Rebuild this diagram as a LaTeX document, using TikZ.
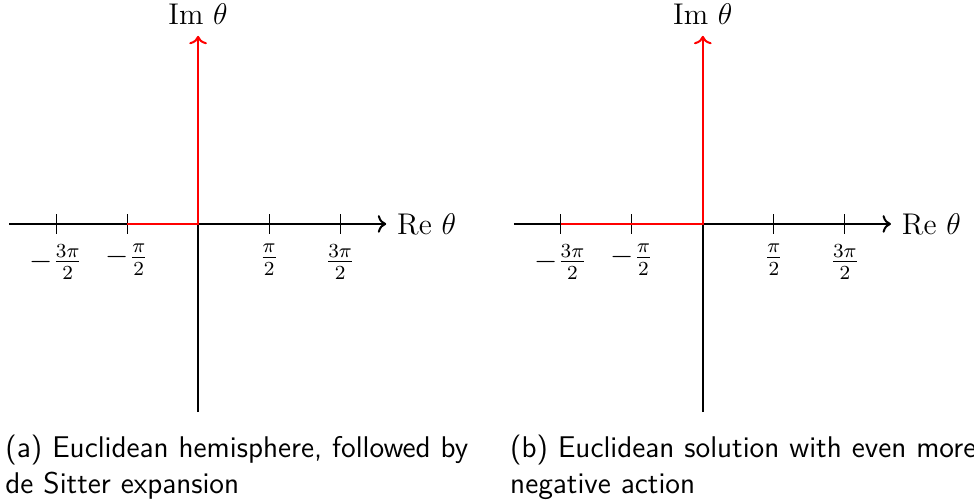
\documentclass[tikz,border=0pt,12pt]{standalone}
\usepackage{amsmath}
\usepackage{tikz}
\usetikzlibrary{positioning, arrows.meta}

\begin{document}
\begin{tikzpicture}[
        axis/.style    = {->, thick},
        redpath/.style = {->, thick, red},
        tickmark/.style = {thin},
        captxt/.style  = {anchor=north west, align=left, text width=6.6cm, inner sep=0pt, font=\sffamily},
    ]
        \useasboundingbox (-2.79,-3.944) rectangle (10.93,3.155);

        %---- panel (a) ----
        \coordinate (ao) at (0,0);
        \coordinate (aw) at (-2.66,0);
        \coordinate (ae) at (2.65,0);
        \coordinate (as) at (0,-2.65);
        \coordinate (an) at (0,2.65);
        \draw[axis] (aw) -- (ae) node[right] (are) {Re $\theta$};
        \draw[thick] (as) -- (ao);
        \foreach \x/\lab in {-2/-\frac{3\pi}{2}, -1/-\frac{\pi}{2}, 1/\frac{\pi}{2}, 2/\frac{3\pi}{2}}
            \draw[tickmark] (\x,0.14) -- (\x,-0.14) node[below] {$\lab$};
        \draw[redpath] (-1,0) -- (ao) -- (an) node[above, black] (aim) {Im $\theta$};
        \node[captxt] (capa) at (-2.72,-2.96) {(a) Euclidean hemisphere, followed by de Sitter expansion};

        %---- panel (b) ----
        \begin{scope}[xshift=7.11cm]
        \coordinate (bo) at (0,0);
        \coordinate (bw) at (-2.66,0);
        \coordinate (be) at (2.65,0);
        \coordinate (bs) at (0,-2.65);
        \coordinate (bn) at (0,2.65);
        \draw[axis] (bw) -- (be) node[right] (bre) {Re $\theta$};
        \draw[thick] (bs) -- (bo);
        \foreach \x/\lab in {-2/-\frac{3\pi}{2}, -1/-\frac{\pi}{2}, 1/\frac{\pi}{2}, 2/\frac{3\pi}{2}}
            \draw[tickmark] (\x,0.14) -- (\x,-0.14) node[below] {$\lab$};
        \draw[redpath] (-2,0) -- (bo) -- (bn) node[above, black] (bim) {Im $\theta$};
        \node[captxt] (capb) at (-2.72,-2.96) {(b) Euclidean solution with even more negative action};
        \end{scope}
    \end{tikzpicture}
\end{document}
